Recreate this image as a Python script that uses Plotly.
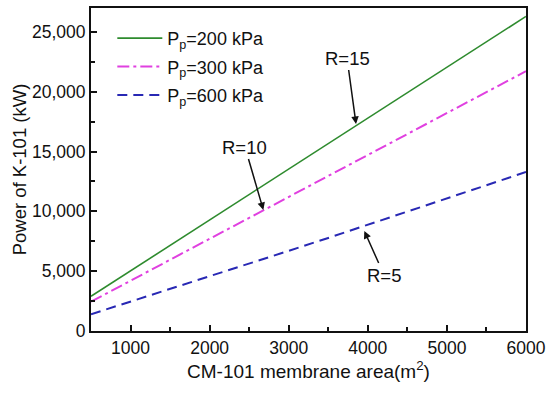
import plotly.graph_objects as go

area = [500, 1000, 1500, 2000, 2500, 3000, 3500, 4000, 4500, 5000, 5500, 6000]
power_200 = [2900, 5030, 7150, 9280, 11410, 13540, 15660, 17790, 19920, 22040, 24170, 26300]
power_300 = [2450, 4200, 5950, 7710, 9460, 11210, 12960, 14710, 16470, 18220, 19970, 21720]
power_600 = [1400, 2450, 3500, 4560, 5620, 6700, 7780, 8880, 9990, 11100, 12200, 13290]
series_names = ["P<sub>p</sub>=200 kPa", "P<sub>p</sub>=300 kPa", "P<sub>p</sub>=600 kPa"]

# annotation labels: (text, text_x, text_y, tip_x, tip_y)
labels = [
    ("R=15", 3737, 22820, 3851, 17300),
    ("R=10", 2447, 15380, 2679, 10115),
    ("R=5", 4205, 4680, 3956, 8359),
]

FONT = "Liberation Sans, Arial, sans-serif"

fig = go.Figure()
fig.add_trace(go.Scatter(x=area, y=power_200, mode="lines", name=series_names[0],
                         legendgroup="a", line=dict(color="#2e8b2e", width=1.6)))
fig.add_trace(go.Scatter(x=area, y=power_300, mode="lines", name=series_names[1],
                         legendgroup="b", line=dict(color="#e040e0", width=2, dash="12px,4px,3px,4px")))
fig.add_trace(go.Scatter(x=area, y=power_600, mode="lines", name=series_names[2],
                         legendgroup="c", line=dict(color="#2828b4", width=2, dash="10px,6px")))

for text, tx, ty, x, y in labels:
    fig.add_annotation(x=x, y=y, ax=tx, ay=ty, axref="x", ayref="y", text=text,
                       showarrow=True, arrowhead=2, arrowsize=1, arrowwidth=1.5,
                       arrowcolor="#111", font=dict(size=18.5, color="#111", family=FONT))

axis_common = dict(showline=True, linecolor="#111", linewidth=2, mirror=True,
                   ticks="inside", ticklen=6, tickwidth=1.5, tickcolor="#111",
                   showgrid=False, zeroline=False, automargin=False,
                   tickfont=dict(size=17.5, color="#111", family=FONT))

fig.update_xaxes(range=[500, 6000], dtick=1000, tick0=0,
                 minor=dict(ticks="inside", ticklen=4, dtick=500, tickcolor="#111", tickwidth=1.5),
                 title=dict(text="CM-101 membrane area(m<sup>2</sup>)", standoff=8,
                            font=dict(size=19, color="#111", family=FONT)),
                 **axis_common)
fig.update_yaxes(range=[0, 27000], dtick=5000, tickformat=",d",
                 minor=dict(ticks="inside", ticklen=4, dtick=2500, tickcolor="#111", tickwidth=1.5),
                 title=dict(text="Power of K-101 (kW)", standoff=0,
                            font=dict(size=18.5, color="#111", family=FONT)),
                 **axis_common)

fig.update_layout(
    width=550, height=394,
    margin=dict(l=91, r=24, t=8, b=63),
    plot_bgcolor="white", paper_bgcolor="white",
    font=dict(family=FONT, color="#111"),
    legend=dict(x=0.049, y=0.963, xanchor="left", yanchor="top", tracegroupgap=2,
                bgcolor="rgba(0,0,0,0)", font=dict(size=18, family=FONT, color="#111"),
                itemwidth=45),
    showlegend=True,
)

fig.write_html("out.html", config={"displayModeBar": False},
               post_script="document.body.style.margin='0px';")
